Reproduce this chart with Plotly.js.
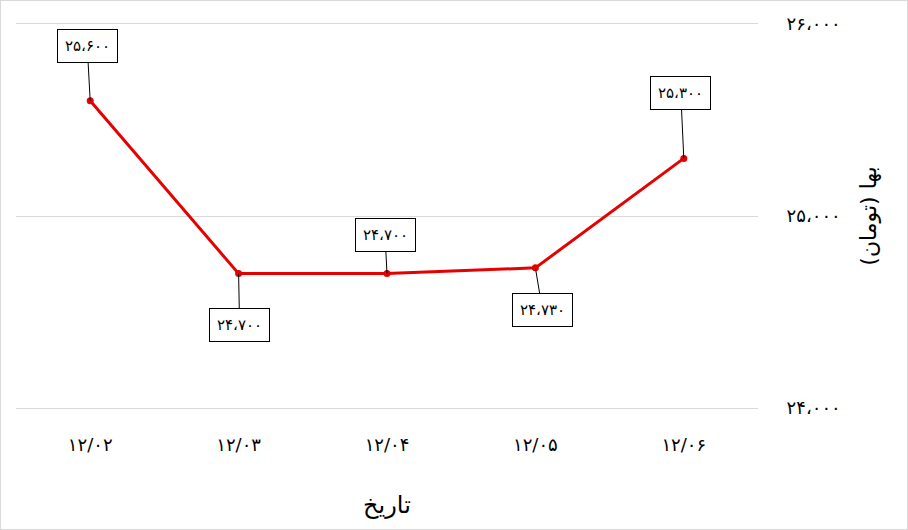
<!DOCTYPE html>
<html>
<head>
<meta charset="utf-8">
<script src="https://cdn.plot.ly/plotly-3.0.1.min.js"></script>
<style>
  html, body { margin: 0; padding: 0; background: #fff; }
  #chart { width: 906px; height: 528px; border: 1px solid #d9d9d9; }
</style>
</head>
<body>
<div id="chart"></div>
<script>
// chart data
const dates = ["۱۲/۰۲", "۱۲/۰۳", "۱۲/۰۴", "۱۲/۰۵", "۱۲/۰۶"];
const prices = [25600, 24700, 24700, 24730, 25300];
const priceLabels = ["۲۵،۶۰۰", "۲۴،۷۰۰", "۲۴،۷۰۰", "۲۴،۷۳۰", "۲۵،۳۰۰"];
const yTickVals = [24000, 25000, 26000];
const yTickText = ["۲۴،۰۰۰", "۲۵،۰۰۰", "۲۶،۰۰۰"];

// label offsets (pixels) for each callout
const labelAx = [-3, 1, -2, 7, -3];
const labelAy = [-55, 51, -39, 42, -65];

const FONT = "DejaVu Sans, Noto Sans, sans-serif";

let trace = {
  x: dates, y: prices,
  type: "scatter", mode: "lines+markers",
  line: {color: "#e60000", width: 3},
  marker: {color: "#e60000", size: 7},
  hoverinfo: "none"
};

let annotations = [];
for (let i = 0; i < dates.length; i++) {
  annotations.push({
    x: dates[i], y: prices[i], xref: "x", yref: "y",
    text: priceLabels[i],
    showarrow: true, arrowhead: 0, arrowwidth: 1, arrowcolor: "#000",
    ax: labelAx[i], ay: labelAy[i],
    bgcolor: "#fff", bordercolor: "#000", borderwidth: 1, borderpad: 7,
    font: {family: FONT, size: 15, color: "#000"}
  });
}

let layout = {
  width: 906, height: 528,
  margin: {l: 15, r: 149, t: 21, b: 119},
  paper_bgcolor: "#fff", plot_bgcolor: "#fff",
  showlegend: false,
  font: {family: FONT, color: "#000"},
  xaxis: {
    type: "category",
    range: [-0.5, dates.length - 0.5],
    showgrid: false, zeroline: false, showline: false,
    ticks: "outside", ticklen: 18, tickcolor: "rgba(0,0,0,0)",
    tickfont: {size: 18},
    title: {text: "تاریخ", font: {size: 24}, standoff: 42}
  },
  yaxis: {
    side: "right",
    // small padding so the edge gridlines are still drawn
    range: [23990, 26010],
    tickvals: yTickVals, ticktext: yTickText,
    showgrid: true, gridcolor: "#d9d9d9", gridwidth: 1,
    zeroline: false, showline: false,
    ticks: "outside", ticklen: 24, tickcolor: "rgba(0,0,0,0)",
    tickfont: {size: 18},
    title: {text: "بها (تومان)", font: {size: 22}, standoff: 20}
  },
  annotations: annotations
};

Plotly.newPlot("chart", [trace], layout, {displayModeBar: false, staticPlot: true});
</script>
</body>
</html>
